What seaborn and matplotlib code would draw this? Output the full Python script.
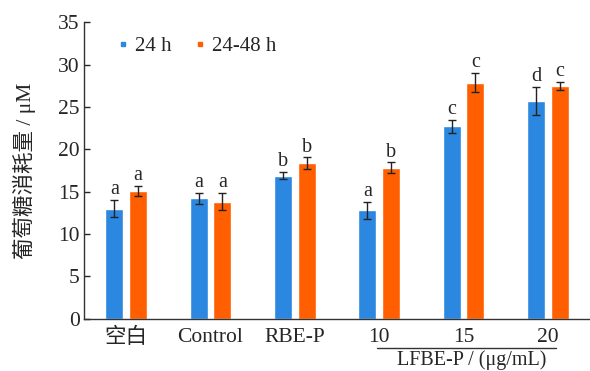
import pandas as pd
import matplotlib.pyplot as plt
import seaborn as sns
from matplotlib.lines import Line2D

# Données
groupes = ['空白', 'Control', 'RBE-P', '10', '15', '20']
series = ['24 h', '24-48 h']
moy_24 = [13.0, 14.2, 16.9, 12.8, 22.7, 25.7]
err_24 = [1.05, 0.65, 0.4, 1.0, 0.8, 1.7]
moy_48 = [15.1, 13.8, 18.35, 17.8, 27.9, 27.5]
err_48 = [0.6, 1.0, 0.7, 0.65, 1.15, 0.45]
lettres_24 = ['a', 'a', 'b', 'a', 'c', 'd']
lettres_48 = ['a', 'a', 'b', 'b', 'c', 'c']
couleurs = ['#2B87E0', '#FF5F00']

df = pd.DataFrame({
    'Groupe': groupes * 2,
    'Serie': [series[0]] * len(groupes) + [series[1]] * len(groupes),
    'Valeur': moy_24 + moy_48,
})

sns.set_style('ticks')
plt.rcParams['font.family'] = ['Liberation Serif', 'Noto Sans CJK SC', 'DejaVu Sans']

fig = plt.figure(figsize=(5.9, 3.71), dpi=100)
ax = fig.add_axes([0.1424, 0.1415, 0.8576, 0.798])

sns.barplot(data=df, x='Groupe', y='Valeur', hue='Serie', order=groupes,
            hue_order=series, palette=couleurs, width=0.56, gap=0.24,
            saturation=1, errorbar=None, legend=False, ax=ax)

# Barres d'erreur + lettres de significativité
for cont, errs, lettres in zip(ax.containers, [err_24, err_48], [lettres_24, lettres_48]):
    for bar, e, l in zip(cont, errs, lettres):
        xc = bar.get_x() + bar.get_width() / 2
        h = bar.get_height()
        ax.errorbar(xc, h, yerr=e, fmt='none', ecolor='#222222',
                    elinewidth=1, capsize=3, capthick=1)
        ax.text(xc, h + e + 0.1, l, ha='center', va='bottom', fontsize=14.5)

ax.set_xlim(-0.5, 5.5)
ax.set_ylim(0, 35)
ax.set_yticks(range(0, 36, 5))
ax.tick_params(axis='y', direction='in', length=4, labelsize=15.5, width=1, pad=3)
ax.tick_params(axis='x', length=0, labelsize=15.5, pad=7)
for t in ax.get_xticklabels():
    if t.get_text() == '空白':
        t.set_fontweight('light')
sns.despine(ax=ax)
for s in ['left', 'bottom']:
    ax.spines[s].set_linewidth(1)
    ax.spines[s].set_color('#333333')
ax.set_xlabel('')
ax.set_ylabel('葡萄糖消耗量 / μM', fontsize=15.5, labelpad=16, fontweight='light')

# Légende
poignees = [Line2D([], [], marker='s', ls='none', color=c, markersize=3.5) for c in couleurs]
ax.legend(poignees, series, loc='upper left', bbox_to_anchor=(0.025, 1.015), ncol=2,
          frameon=False, fontsize=15, handletextpad=0.25, columnspacing=1.0,
          handlelength=0.7)

# Soulignement des concentrations LFBE-P
trans = ax.get_xaxis_transform()
ax.plot([2.97, 5.1], [-0.099, -0.099], transform=trans, color='#333333', lw=1, clip_on=False)
ax.text(4.1, -0.106, 'LFBE-P / (μg/mL)', transform=trans, ha='center', va='top', fontsize=14.5)

fig.savefig('out.png', dpi=100)
